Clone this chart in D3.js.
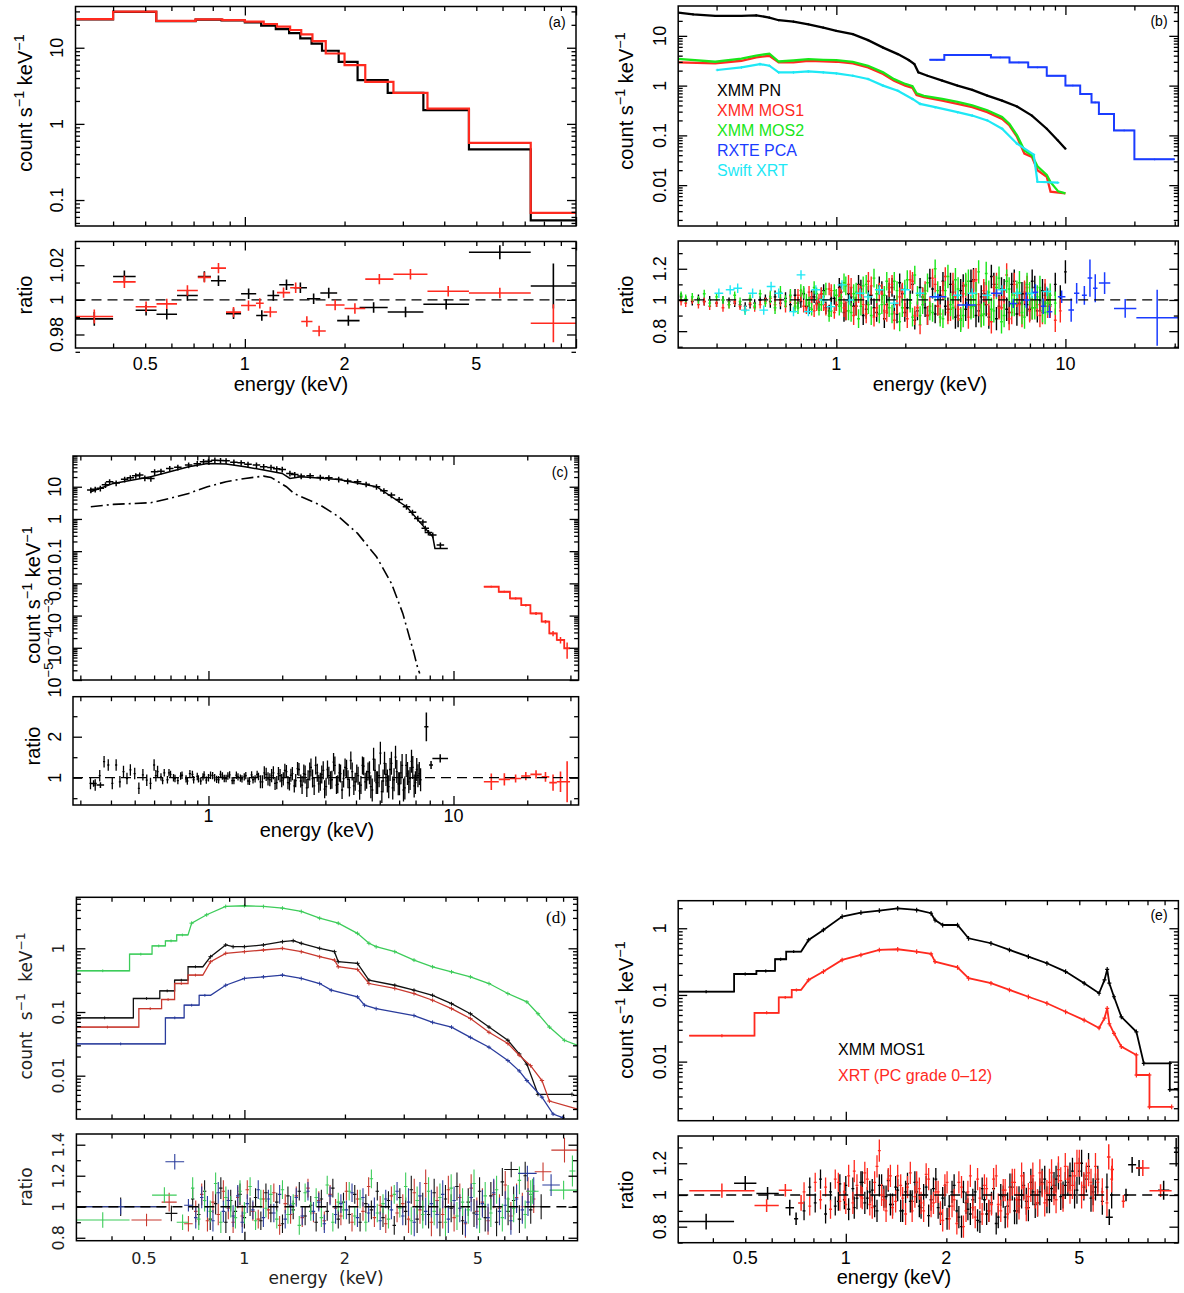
<!DOCTYPE html>
<html>
<head>
<meta charset="utf-8">
<script src="https://cdn.jsdelivr.net/npm/d3@7/dist/d3.min.js"></script>
<style>
  body { margin: 0; background: #fff; }
  svg { display: block; }
</style>
</head>
<body>
<svg id="fig" width="1184" height="1293"></svg>
<script>
// ---------------- data: panel (a) ----------------
var aEdgesBlack = [0.31,0.4,0.54,0.71,0.85,1.0,1.12,1.24,1.36,1.47,1.59,1.71,1.92,2.19,2.7,3.46,4.75,7.3,10];
var aBlack = [23.5,29.5,22.3,23.4,22.8,21.5,19.5,17.6,15.6,13.3,11.3,9.13,6.54,3.76,2.56,1.52,0.464,0.054];
var aEdgesRed = [0.31,0.4,0.54,0.71,0.855,1.0,1.14,1.25,1.37,1.48,1.6,1.755,2.0,2.31,2.81,3.56,4.75,7.3,10];
var aRed = [23.8,29.8,22.6,23.6,23.1,22.0,20.5,18.9,17.1,15.0,12.2,8.4,5.9,3.57,2.56,1.59,0.562,0.068];
// ratio rows: [E lo, E hi, ratio, error]
var aRatBlack = [[0.308,0.40,0.989,0.004],[0.40,0.468,1.0135,0.0035],[0.468,0.541,0.994,0.003],[0.541,0.624,0.9917,0.003],
  [0.624,0.721,1.0025,0.003],[0.721,0.79,1.0135,0.003],[0.79,0.877,1.011,0.003],[0.877,0.974,0.992,0.003],
  [0.974,1.082,1.0035,0.003],[1.082,1.17,0.991,0.003],[1.17,1.27,1.0025,0.003],[1.27,1.405,1.0087,0.003],
  [1.405,1.54,1.007,0.003],[1.54,1.69,1.0006,0.003],[1.69,1.90,1.004,0.003],[1.90,2.22,0.988,0.003],
  [2.22,2.70,0.9956,0.003],[2.70,3.46,0.993,0.003],[3.46,4.75,0.9975,0.003],[4.75,7.3,1.0275,0.004],[7.3,10,1.008,0.013]];
var aRatRed = [[0.308,0.40,0.9904,0.004],[0.40,0.468,1.0104,0.0035],[0.468,0.541,0.996,0.003],[0.541,0.624,0.9977,0.003],
  [0.624,0.721,1.0054,0.003],[0.721,0.79,1.013,0.003],[0.79,0.877,1.0183,0.003],[0.877,0.974,0.9929,0.003],
  [0.974,1.08,0.9967,0.003],[1.08,1.14,0.998,0.003],[1.14,1.25,0.993,0.003],[1.25,1.37,1.0042,0.003],
  [1.37,1.48,1.007,0.003],[1.48,1.60,0.9875,0.003],[1.60,1.755,0.982,0.003],[1.755,2.0,0.997,0.003],
  [2.0,2.31,0.995,0.003],[2.31,2.81,1.012,0.003],[2.81,3.56,1.0148,0.003],[3.56,4.75,1.005,0.003],[4.75,7.3,1.004,0.003],[7.3,10,0.9865,0.011]];

// ---------------- data: panel (b) ----------------
var bPN = [[0.204,29.3],[0.237,27.1],[0.296,25.1],[0.385,25.1],[0.447,25.9],[0.51,23.3],[0.56,20.6],[0.65,19.4],[0.755,17.1],
  [0.877,14.7],[1.0,12.6],[1.18,10.8],[1.375,8.2],[1.6,5.8],[1.855,4.3],[2.07,3.26],[2.19,2.71],[2.28,1.85],[2.5,1.58],
  [2.9,1.26],[3.38,1.0],[3.92,0.82],[4.56,0.63],[5.29,0.5],[6.15,0.38],[7.14,0.25],[8.29,0.136],[9.27,0.079],[10.0,0.054]];
var bMOS1 = [[0.204,2.93],[0.296,2.80],[0.385,3.16],[0.447,3.69],[0.51,3.98],[0.56,2.93],[0.65,2.93],[0.755,3.16],[0.877,3.08],
  [1.0,3.02],[1.18,2.80],[1.375,2.33],[1.6,1.71],[1.786,1.26],[2.0,1.0],[2.15,0.90],[2.24,0.65],[2.41,0.585],[2.9,0.50],
  [3.38,0.43],[3.92,0.369],[4.56,0.293],[5.29,0.215],[5.7,0.158],[6.15,0.093],[6.62,0.043],[7.14,0.037],[7.55,0.020],
  [8.29,0.0147],[8.61,0.0074],[10.0,0.0068]];
var bMOS2 = [[0.204,3.43],[0.296,3.02],[0.385,3.5],[0.447,4.0],[0.51,4.4],[0.56,3.05],[0.65,3.2],[0.755,3.4],[0.877,3.3],
  [1.0,3.25],[1.18,3.0],[1.375,2.5],[1.6,1.85],[1.786,1.35],[2.0,1.08],[2.15,0.97],[2.24,0.70],[2.41,0.62],[2.9,0.54],
  [3.38,0.47],[3.92,0.40],[4.56,0.32],[5.29,0.235],[5.7,0.17],[6.15,0.10],[6.62,0.05],[7.14,0.04],[7.55,0.024],
  [8.29,0.016],[8.61,0.0115],[9.3,0.0075],[10.0,0.0068]];
var bXRT = [[0.302,2.06],[0.385,2.33],[0.464,2.71],[0.51,2.51],[0.56,1.85],[0.65,1.85],[0.755,1.93],[0.877,1.85],[1.0,1.76],
  [1.18,1.58],[1.375,1.36],[1.6,1.0],[1.855,0.79],[2.15,0.54],[2.32,0.43],[2.7,0.369],[3.38,0.293],[3.92,0.25],[4.56,0.20],
  [5.29,0.136],[6.15,0.068],[7.27,0.041],[7.55,0.0117],[9.27,0.0112]];
var bPCAEdges = [2.55,2.96,4.73,5.70,6.88,8.29,10,11.6,13.0,14.0,16.3,20.0,30];
var bPCA = [3.31,4.1,3.69,2.93,2.33,1.58,1.0,0.68,0.46,0.27,0.126,0.033];
var gridB = [0.21,0.22,0.235,0.25,0.265,0.28,0.3,0.32,0.34,0.36,0.38,0.4,0.42,0.44,0.465,0.49,0.515,0.54,0.57,0.6,
  0.63,0.66,0.7,0.74,0.78,0.82,0.86,0.9,0.95,1.0,1.05,1.1,1.16,1.22,1.28,1.35,1.42,1.5,1.58,1.66,
  1.75,1.84,1.94,2.04,2.15,2.26,2.38,2.5,2.63,2.77,2.92,3.07,3.23,3.4,3.58,3.77,3.97,4.18,4.4,4.63,
  4.87,5.13,5.4,5.68,5.98,6.3,6.63,6.98,7.35,7.74,8.15,8.58,9.03,9.5,10.0];
var rPN = [1.02,1.0,0.99,1.01,0.99,1.0,0.98,1.0,0.99,0.98,0.97,0.96,0.97,0.98,1.0,1.01,0.99,1.02,0.98,1.01,
  0.97,1.03,0.99,0.96,1.02,0.98,1.04,0.95,1.01,0.97,1.05,0.93,1.02,0.96,1.07,0.94,1.03,0.92,1.06,0.97,
  1.08,0.91,1.04,0.95,1.1,0.93,1.02,0.9,1.07,0.96,1.12,0.94,1.05,0.9,1.09,0.97,1.13,0.93,1.04,0.89,
  1.1,0.96,1.06,0.92,1.12,0.98,1.04,0.94,1.08,1.0,1.03,0.97,1.1,1.02,1.18];
var rMOS1 = [0.99,0.98,1.0,0.97,0.99,0.96,0.98,0.95,0.97,0.99,0.96,0.94,0.98,0.95,0.97,0.99,1.01,0.97,1.0,0.96,
  1.02,0.98,1.03,0.95,1.01,0.97,1.04,0.94,1.06,0.97,1.02,0.93,1.08,0.96,1.03,0.91,1.09,0.95,1.04,0.92,
  1.1,0.97,1.05,0.88,1.12,0.95,1.02,0.9,1.14,0.96,1.06,0.92,1.1,0.94,1.04,0.89,1.12,0.97,1.06,0.91,
  1.08,0.95,1.02,0.88,1.1,0.97,1.05,0.93,1.0,0.9,1.06,0.96,0.87,0.93];
var rMOS2 = [1.03,1.01,1.02,1.0,1.04,0.98,1.02,1.0,0.97,1.03,0.99,0.93,1.01,0.96,1.04,0.98,1.02,0.95,1.05,0.99,
  1.03,0.96,1.06,1.0,0.94,1.04,0.97,1.07,0.93,1.03,0.98,1.09,0.92,1.05,0.96,1.1,0.9,1.04,0.97,1.12,
  0.91,1.06,0.95,1.13,0.89,1.03,0.97,1.11,0.92,1.06,0.88,1.15,0.95,1.07,0.9,1.12,0.96,1.18,0.91,1.05,
  0.93,1.14,0.9,1.07,0.97,1.11,0.89,1.04,0.95,1.08,0.92,1.03,0.98];
var gridB2 = [0.68,0.72,0.76,0.8,0.84,0.88,0.93,0.98,1.03,1.08,1.13,1.19,1.25,1.31,1.38,1.46,1.54,1.62,1.7,1.79,
  1.89,1.99,2.1,2.2,2.32,2.44,2.56,2.7,2.84,2.99,3.15,3.31,3.49,3.67,3.87,4.07,4.29,4.51,4.75,5.0,
  5.26,5.54,5.83,6.14,6.46,6.8,7.16,7.54,7.94,8.36];
var rPN2 = [0.98,1.04,0.95,1.02,0.97,1.06,0.93,1.01,1.08,0.92,1.04,0.96,1.1,0.9,1.03,0.95,1.09,0.88,1.05,0.97,
  1.11,0.92,1.0,0.87,1.08,0.95,1.14,0.91,1.03,0.96,1.1,0.89,1.06,0.94,1.12,0.9,1.02,0.97,1.15,0.88,
  1.07,0.94,1.1,0.91,1.04,0.97,1.12,0.93,1.06,1.0];
var rMOS1b = [1.03,0.96,1.05,0.93,1.0,0.97,1.07,0.92,1.02,0.95,1.1,0.9,1.04,0.97,1.12,0.89,1.05,0.93,1.08,0.87,
  1.02,0.95,1.13,0.9,0.84,1.06,0.96,1.1,0.91,1.15,0.94,1.02,0.88,1.09,0.96,1.13,0.9,1.04,0.86,1.1,
  0.95,1.16,0.92,1.03,0.9,1.08,0.95,0.97,0.92,0.96];
var rMOS2b = [0.95,1.05,0.98,1.08,0.94,1.02,0.9,1.06,0.96,1.11,0.93,1.04,0.88,1.09,0.97,1.14,0.91,1.03,0.95,1.12,
  0.86,1.07,0.98,1.16,0.9,1.04,0.93,1.2,0.89,1.06,0.97,1.13,0.87,1.1,0.95,1.04,0.9,1.17,0.94,1.08,
  0.86,1.12,0.97,1.05,0.92,1.1,0.95,1.02,0.93,0.98];
var errBandsB = [[0.5,0.025],[1.0,0.04],[3.0,0.06],[11,0.075]];
var rXRT = [[0.307,1.043],[0.344,1.065],[0.371,1.075],[0.40,0.935],[0.431,1.043],[0.482,0.935],[0.519,1.086],[0.56,1.043],
  [0.65,0.925],[0.701,1.161],[0.755,0.925],[0.814,1.065],[0.877,1.0],[0.946,0.957],[1.058,1.097],[1.14,1.0],[1.27,1.043],
  [1.375,1.02],[1.54,1.065],[1.79,0.98],[2.0,1.065],[2.32,1.043],[2.7,1.02],[3.38,1.03],[3.92,1.043],[4.56,1.03],
  [5.29,1.065],[6.15,1.043],[7.14,1.043],[8.29,1.054]];
var rPCA = [[2.55,3.02,1.02,0.02],[3.38,4.07,0.968,0.02],[4.73,5.29,1.043,0.025],[5.7,6.15,0.978,0.03],[6.5,7.0,1.0,0.05],
  [7.2,7.6,1.05,0.05],[7.8,8.2,0.96,0.05],[8.29,8.77,0.925,0.04],[9.27,10,1.02,0.04],[10.3,10.9,0.935,0.075],
  [10.9,11.5,1.043,0.065],[11.8,12.4,1.03,0.06],[12.5,13.1,1.14,0.12],[13.2,13.8,1.075,0.09],[14.0,15.7,1.108,0.07],
  [16.3,20.4,0.946,0.06],[20.4,31,0.886,0.18]];

// ---------------- data: panel (c) ----------------
var cData = [[0.331,7.9],[0.345,8.3],[0.362,8.9],[0.38,11.5],[0.395,14.3],[0.42,13],[0.455,17],[0.48,19],[0.505,22],
  [0.524,23],[0.55,18.5],[0.582,18],[0.603,29],[0.64,30],[0.695,37],[0.75,40],[0.83,47],[0.9,52],[0.955,60],[1.0,62],
  [1.062,67],[1.12,65],[1.18,64],[1.27,58],[1.36,55.6],[1.45,50],[1.57,47],[1.68,42],[1.8,39.8],[1.9,36],[2.0,34.5],
  [2.15,25.9],[2.25,24],[2.39,21.4],[2.6,22],[2.86,19.5],[3.1,19],[3.4,17],[3.7,15],[4.06,14.3],[4.4,12],[4.85,10],
  [5.2,7.5],[5.58,5.5],[6.0,4.0],[6.43,2.4],[6.8,1.6],[7.15,1.04],[7.5,0.8],[7.67,0.51],[7.9,0.38],[8.23,0.316],[8.84,0.155]];
var cModel = [[0.331,7.0],[0.409,12.7],[0.582,20.4],[0.83,41.7],[0.99,53],[1.18,50.5],[1.41,41.7],[1.68,32.9],[2.0,25.9],
  [2.15,18.1],[2.39,20.4],[3.4,16.9],[4.85,10],[6.43,2.4],[7.67,0.51],[8.23,0.281],[8.4,0.122],[9.48,0.122]];
var cComp = [[0.331,2.4],[0.409,2.83],[0.582,3.19],[0.695,4.34],[0.83,6.2],[0.99,10],[1.18,14.3],[1.41,18.1],[1.68,21.4],
  [1.80,19.5],[2.08,10],[2.23,6.2],[2.39,4.9],[2.86,2.7],[3.40,1.17],[4.06,0.356],[4.85,0.067],[5.58,0.010],[6.21,1.17e-3],
  [6.66,1.75e-4],[6.90,6.7e-5],[7.15,2.3e-5],[7.28,1.6e-5]];
var cRedEdges = [13.3,15.3,17.0,18.9,20.6,22.9,24.6,26.4,28.3,29.9];
var cRed = [7.9e-3,5.5e-3,3.4e-3,2.1e-3,1.17e-3,6.5e-4,2.8e-4,1.75e-4,9.6e-5];
var cRedErr = [6e-4,4e-4,3e-4,2e-4,1.2e-4,8e-5,5e-5,4e-5,5e-5];
var gridC = [0.33,0.345,0.36,0.375,0.39,0.405,0.42,0.435,0.45,0.465,0.48,0.5,0.52,0.54,0.56,0.58,0.6,0.62,0.64,0.66,
  0.68,0.7,0.72,0.75,0.78,0.81,0.84,0.87,0.9,0.93,0.96,1.0,1.04,1.08,1.12,1.16,1.2,1.25,1.3,1.35,
  1.4,1.45,1.5,1.55,1.6,1.66,1.72,1.78,1.84,1.9,1.96,2.02,2.08,2.14,2.2,2.27,2.34,2.41,2.48,2.55,
  2.62,2.7,2.78,2.86,2.94,3.02,3.1,3.19,3.28,3.37,3.46,3.56,3.66,3.76,3.86,3.97,4.08,4.19,4.3,4.42,
  4.54,4.66,4.78,4.9,5.03,5.16,5.3,5.44,5.58,5.72,5.87,6.02,6.17,6.33,6.49,6.65,6.82,6.99,7.16,7.34];
var rC = [0.86,0.82,1.05,1.39,1.31,0.86,1.31,0.9,1.15,0.98,1.19,1.1,0.74,1.07,0.94,0.86,1.31,1.15,1.02,1.12,
  0.95,1.08,1.0,0.93,1.06,0.97,1.1,0.95,1.03,0.92,1.07,1.0,1.05,0.96,1.08,0.98,1.04,0.93,1.06,0.99,
  1.02,0.92,1.07,0.97,1.03,0.9,1.08,0.95,1.12,0.88,1.05,0.97,1.15,0.85,1.1,0.93,1.2,0.82,1.08,0.96,
  1.25,0.8,1.12,0.9,1.18,0.78,1.05,0.95,1.3,0.84,1.1,0.98,1.22,0.76,1.15,0.9,1.05,0.82,1.28,0.95,
  1.12,0.7,1.18,0.88,1.6,0.92,1.08,0.78,1.35,0.95,1.15,0.85,1.3,0.75,1.1,0.98,1.25,0.88,1.05,0.95];
var gridC2 = [0.61,0.65,0.69,0.73,0.77,0.82,0.86,0.91,0.95,0.98,1.02,1.06,1.1,1.14,1.18,1.22,1.27,1.32,1.37,1.42,1.47,
  1.52,1.58,1.63,1.69,1.75,1.81,1.87,1.93,1.99,2.05,2.11,2.17,2.24,2.31,2.38,2.45,2.52,2.59,2.66,2.74,2.82,2.9,2.98,3.06,
  3.15,3.24,3.33,3.42,3.51,3.61,3.71,3.81,3.92,4.03,4.14,4.25,4.36,4.48,4.6,4.72,4.84,4.97,5.1,5.23,5.37,5.51,5.65,
  5.8,5.95,6.1,6.25,6.41,6.57,6.74,6.91,7.08,7.25];
var rC2 = [1.05,0.93,1.12,0.98,1.04,0.92,1.08,0.97,1.02,0.94,1.06,1.0,0.95,1.04,0.98,1.07,0.93,1.02,0.97,1.05,0.91,
  0.95,1.08,0.9,1.12,0.97,1.05,0.86,1.1,0.93,1.18,0.88,1.06,0.8,1.22,0.92,1.1,0.75,1.15,0.98,1.3,0.85,1.08,0.72,1.2,
  0.94,1.38,0.82,1.12,0.7,1.25,0.96,1.42,0.8,1.1,0.68,1.3,0.9,1.15,0.78,1.45,0.88,1.05,0.66,1.35,0.92,1.2,0.75,
  1.5,0.85,1.12,0.7,1.3,0.9,1.4,0.8,1.2,1.1];
var errBandsC = [[0.62,0.14],[1.6,0.09],[2.4,0.16],[4.5,0.22],[10,0.28]];
var cRatBlack = [[0.33,0.35,0.86,0.08],[0.35,0.375,0.82,0.07],[7.6,7.9,2.24,0.35],[7.95,8.25,1.31,0.1],[8.2,9.5,1.47,0.1]];
var cRatRed = [[13.3,15.3,0.90,0.2],[15.3,17.0,0.96,0.15],[17.0,18.9,0.98,0.1],[18.9,20.6,1.04,0.1],[20.6,22.9,1.08,0.1],
  [22.9,24.6,1.02,0.12],[24.6,26.4,0.88,0.2],[26.4,28.3,0.9,0.25],[28.3,29.9,0.9,0.5]];

// ---------------- data: panel (d) ----------------
var dGreenEdges = [0.313,0.453,0.529,0.58,0.627,0.678];
var dGreenSteps = [0.444,0.81,1.09,1.31,1.62];
var dGreen = [[0.695,2.48],[0.771,3.36],[0.879,4.54],[1.0,4.66],[1.14,4.54],[1.3,4.28],[1.48,3.79],[1.68,2.97],[1.91,2.48],
  [2.18,1.72],[2.36,1.2],[2.48,1.06],[2.82,0.886],[3.22,0.654],[3.66,0.513],[4.17,0.428],[4.75,0.357],[5.4,0.28],
  [6.15,0.195],[7.01,0.144],[7.57,0.094],[8.19,0.058],[9.08,0.036],[9.95,0.030]];
var dBlackEdges = [0.313,0.465,0.558,0.618,0.678,0.751];
var dBlackSteps = [0.081,0.163,0.215,0.316,0.513];
var dBlack = [[0.792,0.739],[0.879,1.13],[0.925,1.06],[1.0,1.06],[1.14,1.13],[1.3,1.27],[1.4,1.32],[1.48,1.2],[1.68,1.0],
  [1.86,0.886],[1.91,0.616],[2.18,0.58],[2.36,0.316],[2.82,0.263],[3.22,0.22],[3.66,0.183],[4.17,0.135],[4.75,0.094],
  [5.4,0.058],[6.15,0.036],[6.65,0.022],[7.01,0.0152],[7.57,0.0051],[9.57,0.0051]];
var dRedEdges = [0.313,0.483,0.565,0.618,0.678,0.751];
var dRedSteps = [0.058,0.113,0.157,0.28,0.38];
var dRed = [[0.792,0.616],[0.879,0.834],[1.0,0.886],[1.14,0.94],[1.3,1.0],[1.48,0.886],[1.68,0.739],[1.86,0.654],[1.91,0.513],
  [2.18,0.466],[2.36,0.28],[2.82,0.234],[3.22,0.195],[3.66,0.153],[4.17,0.113],[4.75,0.079],[5.4,0.048],[6.15,0.032],
  [6.65,0.021],[7.19,0.0144],[7.78,0.0084],[8.19,0.004],[9.95,0.003]];
var dBlueEdges = [0.313,0.58,0.66,0.732,0.792];
var dBlueSteps = [0.0316,0.081,0.128,0.183];
var dBlue = [[0.879,0.263],[1.0,0.336],[1.14,0.357],[1.3,0.38],[1.48,0.336],[1.68,0.28],[1.82,0.22],[2.18,0.173],[2.29,0.128],
  [2.48,0.113],[3.22,0.088],[3.66,0.069],[4.17,0.058],[4.75,0.040],[5.4,0.028],[6.15,0.0173],[6.65,0.0119],[7.01,0.0084],
  [7.78,0.0046],[8.4,0.0025],[8.97,0.0022]];
var gridD = [0.7,0.73,0.76,0.79,0.82,0.85,0.88,0.91,0.94,0.97,1.0,1.04,1.08,1.12,1.16,1.2,1.25,1.3,1.35,1.4,
  1.46,1.52,1.58,1.64,1.7,1.77,1.84,1.91,1.98,2.06,2.14,2.22,2.31,2.4,2.5,2.6,2.7,2.81,2.92,3.04,
  3.16,3.29,3.42,3.56,3.7,3.85,4.0,4.16,4.33,4.5,4.68,4.87,5.06,5.26,5.47,5.69,5.92,6.16,6.4,6.66,6.93,7.2];
var gridD2 = [0.715,0.745,0.775,0.805,0.835,0.865,0.895,0.925,0.955,0.985,1.02,1.06,1.1,1.14,1.18,1.225,1.275,1.325,1.375,1.43,
  1.49,1.55,1.61,1.67,1.735,1.805,1.875,1.945,2.02,2.1,2.18,2.265,2.355,2.45,2.55,2.65,2.755,2.865,2.98,3.1,
  3.225,3.355,3.49,3.63,3.775,3.925,4.08,4.245,4.415,4.59,4.775,4.965,5.16,5.365,5.58,5.805,6.04,6.28,6.53,6.795,7.065,7.35];
var rDk = [1.05,0.95,1.1,0.92,1.02,1.12,0.9,1.04,0.97,1.08,0.93,1.0,1.06,0.91,1.09,0.96,1.03,0.89,1.07,0.98,
  1.1,0.94,1.01,0.9,1.05,0.97,1.12,0.92,1.03,0.95,1.08,0.9,1.02,0.98,1.1,0.93,1.04,0.88,1.06,0.97,
  1.11,0.92,1.0,0.95,1.09,0.9,1.05,0.99,1.13,0.91,1.03,0.96,1.1,0.93,1.07,0.9,1.16,0.97,1.04,0.92,1.2,0.98];
var rDr = [0.97,1.08,0.91,1.03,0.95,1.1,0.99,0.9,1.06,0.94,1.11,0.97,0.92,1.05,0.98,1.09,0.88,1.02,0.95,1.07,
  0.93,1.12,0.96,1.04,0.91,1.08,0.99,0.94,1.1,0.9,1.05,0.97,1.13,0.93,1.01,0.89,1.07,0.96,1.02,0.92,
  1.09,0.98,1.15,0.9,1.04,0.95,1.11,0.93,1.06,0.89,1.12,0.97,1.03,0.91,1.08,0.99,1.14,0.94,1.06,1.0,1.1,1.05];
var rDg = [1.12,0.92,1.04,0.97,1.15,0.9,1.06,1.0,0.93,1.1,0.96,1.13,0.91,1.05,0.99,1.08,0.92,1.11,0.95,1.02,
  0.88,1.09,0.97,1.06,0.93,1.14,0.9,1.03,0.98,1.1,0.94,1.05,0.9,1.18,0.96,1.02,0.92,1.08,0.99,1.13,
  0.91,1.04,0.95,1.1,0.97,1.06,0.9,1.12,0.94,1.03,0.98,1.15,0.92,1.07,0.96,1.11,0.93,1.05,0.99,1.17,0.95,1.08];
var rDb = [0.93,1.06,1.0,0.91,1.09,0.97,1.04,0.94,1.07,0.9,1.02,0.98,1.11,0.93,1.05,0.96,1.08,0.92,1.01,1.06,
  0.94,1.1,0.97,1.03,0.89,1.07,0.95,1.02,0.98,1.09,0.93,1.06,0.96,1.0,0.91,1.05,0.98,1.1,0.94,1.03,
  0.9,1.07,0.97,1.02,0.95,1.08,0.92,1.04,0.99,0.9,1.06,0.95,1.02,0.93,1.09,0.97,1.01,0.91,1.05,0.98,1.03,1.1];
var errBandsD = [[1.0,0.07],[3.0,0.06],[10,0.09]];
var dRatBlack = [[0.313,0.58,1.0,0.06],[0.58,0.63,0.957,0.05],[6.0,6.6,1.24,0.05],[7.3,8.2,1.0,0.08]];
var dRatRed = [[0.459,0.565,0.914,0.04],[0.565,0.627,1.03,0.06],[0.66,0.7,0.89,0.05],[7.4,8.3,1.226,0.06],[8.3,9.95,1.365,0.08]];
var dRatGreen = [[0.313,0.453,0.914,0.05],[0.529,0.627,1.075,0.05],[0.627,0.68,0.90,0.05],[7.0,7.6,1.1,0.08],[8.2,9.95,1.107,0.06],[9.4,9.8,1.23,0.1]];
var dRatBlue = [[0.313,0.58,1.0,0.05],[0.58,0.66,1.29,0.05],[0.66,0.7,1.01,0.04],[6.6,7.5,1.215,0.05],[7.8,8.8,1.14,0.07]];

// ---------------- data: panel (e) ----------------
var eBlackEdges = [0.315,0.463,0.54,0.614,0.663,0.735];
var eBlackSteps = [0.112,0.206,0.229,0.343,0.447];
var eBlack = [[0.774,0.668],[0.857,0.944],[0.975,1.5],[1.11,1.72],[1.26,1.84],[1.43,1.99],[1.63,1.88],[1.8,1.68],[1.85,1.33],
  [1.95,1.12],[2.16,1.12],[2.33,0.708],[2.72,0.596],[3.09,0.473],[3.52,0.376],[4.0,0.299],[4.55,0.224],[5.17,0.15],
  [5.73,0.106],[5.95,0.168],[6.06,0.242],[6.15,0.15],[6.35,0.094],[6.68,0.047],[7.41,0.028],[7.8,0.0094],[9.33,0.0094],
  [9.33,0.0038],[9.9,0.0038]];
var eRedEdges = [0.34,0.533,0.63,0.689,0.735];
var eRedSteps = [0.0245,0.054,0.092,0.119];
var eRed = [[0.774,0.168],[0.857,0.224],[0.975,0.335],[1.11,0.398],[1.26,0.473],[1.43,0.484],[1.63,0.447],[1.8,0.412],
  [1.85,0.316],[2.16,0.26],[2.33,0.178],[2.72,0.15],[3.09,0.119],[3.52,0.094],[4.0,0.075],[4.55,0.056],[5.17,0.042],
  [5.73,0.032],[5.95,0.045],[6.06,0.063],[6.15,0.037],[6.35,0.0266],[6.68,0.0168],[7.41,0.0126],[7.41,0.0063],
  [8.11,0.0063],[8.11,0.0021],[9.45,0.0021]];
var gridE = [0.75,0.78,0.81,0.84,0.87,0.9,0.93,0.96,0.99,1.02,1.05,1.08,1.11,1.14,1.18,1.22,1.26,1.3,1.34,1.38,
  1.43,1.48,1.53,1.58,1.63,1.68,1.74,1.8,1.86,1.92,1.98,2.04,2.11,2.18,2.25,2.32,2.4,2.48,2.56,2.64,
  2.73,2.82,2.91,3.0,3.1,3.2,3.3,3.41,3.52,3.63,3.75,3.87,4.0,4.13,4.26,4.4,4.54,4.69,4.84,5.0,
  5.16,5.33,5.5,5.68,5.86,6.05,6.25];
var rEk = [0.9,1.05,0.95,1.1,0.88,1.02,0.93,1.07,0.97,0.91,1.04,0.98,1.08,0.95,1.02,0.93,1.06,0.99,1.09,0.94,
  1.03,0.9,1.07,0.96,1.02,0.92,1.05,0.97,1.1,0.88,1.0,0.93,1.06,0.86,1.02,0.91,0.97,0.84,1.04,0.88,
  0.95,0.82,1.0,0.86,1.05,0.9,0.97,1.06,0.92,1.02,0.95,1.08,0.97,1.04,1.1,0.99,1.06,1.12,1.0,1.15,
  1.05,1.18,1.02,1.1,0.96,1.05,1.0];
var rEr = [1.02,0.93,1.08,0.97,1.05,0.91,1.1,0.96,1.02,1.12,0.95,1.06,0.99,1.14,0.94,1.08,1.28,0.97,1.1,0.92,
  1.12,0.98,1.05,0.9,1.08,0.95,1.13,0.93,1.02,0.89,1.06,0.85,0.97,1.08,0.8,1.02,0.92,1.1,0.88,1.04,
  0.94,1.12,0.9,1.03,0.97,1.08,0.93,1.05,0.99,1.12,0.95,1.07,1.01,1.14,0.97,1.09,1.18,1.03,1.12,1.2,
  1.06,1.14,0.98,1.08,1.02,0.95,1.1];
var gridE2 = [0.95,1.0,1.06,1.12,1.16,1.2,1.24,1.28,1.32,1.36,1.41,1.46,1.51,1.56,1.61,1.66,1.71,1.77,1.83,1.89,
  1.95,2.01,2.08,2.15,2.22,2.29,2.36,2.44,2.52,2.6,2.68,2.77,2.86,2.96,3.05,3.15,3.25,3.36,3.47,3.58,
  3.69,3.81,3.94,4.07,4.2,4.33,4.47,4.62,4.77,4.92,5.08,5.25,5.42,5.59];
var rEk2 = [0.96,1.06,0.92,1.08,0.98,1.03,0.9,1.06,0.99,0.94,1.05,0.9,1.02,0.96,1.08,0.93,1.0,0.87,1.04,0.92,
  0.98,0.85,1.02,0.9,0.8,0.95,0.88,1.02,0.83,0.97,0.9,1.04,0.86,0.99,0.93,1.05,0.9,1.0,0.96,1.08,
  0.94,1.02,1.1,0.97,1.06,1.12,1.0,1.08,1.15,1.03,1.2,1.1,0.98,1.05];
var rEr2 = [1.08,0.94,1.15,0.98,1.1,0.92,1.18,1.0,0.9,1.12,0.96,1.06,0.88,1.14,0.99,1.04,0.9,1.1,0.95,1.02,
  0.84,1.08,0.93,0.82,1.05,0.9,1.12,0.86,0.98,1.06,0.9,1.1,0.94,1.03,0.88,1.08,0.97,1.12,0.92,1.04,
  1.0,1.14,0.95,1.08,1.02,1.16,0.98,1.1,1.06,1.2,1.0,1.12,1.08,1.18];
var errBandsE = [[1.0,0.06],[3.0,0.07],[10,0.085]];
var eRatBlack = [[0.315,0.463,0.832,0.05],[0.463,0.54,1.074,0.045],[0.54,0.63,1.01,0.04],[0.66,0.7,0.92,0.05],
  [0.7,0.72,0.85,0.04],[6.0,6.3,0.86,0.05],[6.8,7.0,1.0,0.04],[7.0,7.4,1.19,0.05],[7.4,7.7,1.17,0.05],[8.6,9.3,1.03,0.06],[9.6,9.9,1.27,0.09]];
var eRatRed = [[0.34,0.533,1.027,0.045],[0.533,0.63,0.933,0.04],[0.63,0.69,1.03,0.04],[0.72,0.75,0.95,0.05],
  [6.05,6.2,1.24,0.08],[6.2,6.35,1.16,0.07],[6.7,6.85,0.96,0.04],[7.4,8.11,1.17,0.05],[8.11,9.45,1.027,0.04]];

// ---------------- drawing ----------------
var FONT = "'Liberation Sans', Arial, Helvetica, sans-serif";
var RED = "#ff2a1f", GREEN = "#19e619", BLUE = "#1a3cff", CYAN = "#1ee8f5";
var svg = d3.select("#fig");
var defs = svg.append("defs");

function panel(p) {
  var P = {p: p};
  P.x = d3.scaleLog().domain(p.xdom).range([p.x0, p.x1]);
  P.y = d3.scaleLog().domain(p.ydom).range([p.t1, p.t0]);
  P.r = d3.scaleLinear().domain(p.rdom).range([p.r1, p.r0]);
  defs.append("clipPath").attr("id", "ct" + p.id).append("rect")
    .attr("x", p.x0).attr("y", p.t0).attr("width", p.x1 - p.x0).attr("height", p.t1 - p.t0);
  defs.append("clipPath").attr("id", "cr" + p.id).append("rect")
    .attr("x", p.x0).attr("y", p.r0).attr("width", p.x1 - p.x0).attr("height", p.r1 - p.r0);
  P.top = svg.append("g").attr("clip-path", "url(#ct" + p.id + ")");
  P.rat = svg.append("g").attr("clip-path", "url(#cr" + p.id + ")");
  return P;
}

function stepPts(edges, vals) {
  var pts = [];
  vals.forEach(function (v, i) { pts.push([edges[i], v], [edges[i + 1], v]); });
  return pts;
}

function curve(P, pts, color, w, dash) {
  var ln = d3.line().x(function (d) { return P.x(d[0]); }).y(function (d) { return P.y(d[1]); });
  var path = P.top.append("path").attr("d", ln(pts)).attr("fill", "none")
    .attr("stroke", color).attr("stroke-width", w);
  if (dash) path.attr("stroke-dasharray", dash);
}

// rows: [E lo, E hi, value, value lo, value hi]
function countCrosses(P, rows, color, w) {
  var d = rows.map(function (q) {
    var xc = P.x(Math.sqrt(q[0] * q[1]));
    return "M" + P.x(q[0]) + "," + P.y(q[2]) + "H" + P.x(q[1]) + "M" + xc + "," + P.y(q[3]) + "V" + P.y(q[4]);
  }).join("");
  P.top.append("path").attr("d", d).attr("fill", "none").attr("stroke", color).attr("stroke-width", w);
}
function binCrosses(P, edges, vals, color, w, f) {
  countCrosses(P, vals.map(function (v, i) { return [edges[i], edges[i + 1], v, v * (1 - f), v * (1 + f)]; }), color, w);
}
function pointCrosses(P, pts, color, w, hw, f) {
  countCrosses(P, pts.map(function (q) { return [q[0] / (1 + hw), q[0] * (1 + hw), q[1], q[1] * (1 - f), q[1] * (1 + f)]; }), color, w);
}

// rows: [E lo, E hi, ratio, err]
function ratioCrosses(P, rows, color, w) {
  var d = rows.map(function (q) {
    var xc = P.x(Math.sqrt(q[0] * q[1]));
    return "M" + P.x(q[0]) + "," + P.r(q[2]) + "H" + P.x(q[1]) + "M" + xc + "," + P.r(q[2] - q[3]) + "V" + P.r(q[2] + q[3]);
  }).join("");
  P.rat.append("path").attr("d", d).attr("fill", "none").attr("stroke", color).attr("stroke-width", w);
}
function errAt(bands, e) {
  var b = bands.find(function (q) { return e <= q[0]; });
  return b ? b[1] : bands[bands.length - 1][1];
}
function denseRatio(P, grid, vals, bands, color, w, hw) {
  ratioCrosses(P, d3.zip(grid, vals).map(function (q) {
    return [q[0] / (1 + hw), q[0] * (1 + hw), q[1], errAt(bands, q[0])];
  }), color, w);
}
function unityLine(P) {
  P.rat.append("line").attr("x1", P.p.x0).attr("x2", P.p.x1).attr("y1", P.r(1)).attr("y2", P.r(1))
    .attr("stroke", "#000").attr("stroke-width", 1.3).attr("stroke-dasharray", "10,6");
}

function isDecade(v) { var l = Math.log10(v); return Math.abs(l - Math.round(l)) < 1e-6; }

function tickAxis(g, side, sc, pos, vals, len) {
  var mk = {top: d3.axisTop, bottom: d3.axisBottom, left: d3.axisLeft, right: d3.axisRight}[side];
  var tr = (side === "top" || side === "bottom") ? "translate(0," + pos + ")" : "translate(" + pos + ",0)";
  g.append("g").attr("transform", tr)
    .call(mk(sc).tickValues(vals).tickSize(-len).tickFormat(""))
    .call(function (s) {
      s.select(".domain").remove();
      s.selectAll("line").attr("stroke", "#000").attr("stroke-width", 1.3);
    });
}

function label(x, y, parts, o) {
  o = o || {};
  var size = o.size || 18;
  var t = svg.append("text").attr("x", x).attr("y", y)
    .attr("font-family", o.font || FONT).attr("font-size", size)
    .attr("fill", o.fill || "#000").attr("text-anchor", o.anchor || "middle");
  if (o.rot) t.attr("transform", "rotate(-90," + x + "," + y + ")");
  if (o.ws) t.attr("word-spacing", o.ws);
  var up = false;
  [].concat(parts).forEach(function (s) {
    var sup = s.charAt(0) === "^";
    var ts = t.append("tspan").text(sup ? s.slice(1) : s);
    if (sup) {
      ts.attr("font-size", size * 0.72);
      if (!up) { ts.attr("dy", -0.42 * size); up = true; }
    } else if (up) { ts.attr("dy", 0.42 * size); up = false; }
  });
  return t;
}

function axes(P, o) {
  var p = P.p, g = svg.append("g");
  var xt = P.x.ticks(), xMaj = xt.filter(isDecade), xMin = xt.filter(function (v) { return !isDecade(v); });
  [[p.t0, "top"], [p.t1, "bottom"], [p.r0, "top"], [p.r1, "bottom"]].forEach(function (s) {
    tickAxis(g, s[1], P.x, s[0], xMin, 4.5);
    tickAxis(g, s[1], P.x, s[0], xMaj, 9);
  });
  var yt = P.y.ticks(), yMaj = yt.filter(isDecade), yMin = yt.filter(function (v) { return !isDecade(v); });
  [[p.x0, "left"], [p.x1, "right"]].forEach(function (s) {
    tickAxis(g, s[1], P.y, s[0], yMin, 4.5);
    tickAxis(g, s[1], P.y, s[0], yMaj, 9);
    tickAxis(g, s[1], P.r, s[0], o.rMin, 4.5);
    tickAxis(g, s[1], P.r, s[0], o.rMaj, 9);
  });
  g.append("rect").attr("x", p.x0).attr("y", p.t0).attr("width", p.x1 - p.x0).attr("height", p.t1 - p.t0)
    .attr("fill", "none").attr("stroke", "#000").attr("stroke-width", 1.5);
  g.append("rect").attr("x", p.x0).attr("y", p.r0).attr("width", p.x1 - p.x0).attr("height", p.r1 - p.r0)
    .attr("fill", "none").attr("stroke", "#000").attr("stroke-width", 1.5);

  var tk = {font: o.font, size: o.size || 18, fill: o.fill};
  var ti = {font: o.font, size: o.tsize || 20, fill: o.fill};
  o.xLab.forEach(function (s) { label(P.x(s[0]), o.xLabY, s[1], tk); });
  o.yLab.forEach(function (s) { label(p.x0 - 12, P.y(s[0]), s[1], Object.assign({rot: true}, tk)); });
  o.rLab.forEach(function (s) { label(p.x0 - 12, P.r(s[0]), s[1], Object.assign({rot: true}, tk)); });
  label(o.eX, o.eY, "energy (keV)", Object.assign({ws: o.ws}, ti));
  label(o.tX, o.cY, ["count s", "^\u22121", " keV", "^\u22121"], Object.assign({rot: true, ws: o.ws}, ti));
  label(o.tX, o.rY, "ratio", Object.assign({rot: true}, ti));
  label(o.tag[0], o.tag[1], o.tag[2], {size: o.tagSize || 14, font: o.tagFont || FONT});
}

var xLabs5 = [[0.5, "0.5"], [1, "1"], [2, "2"], [5, "5"]];

// ---------- (a) ----------
var A = panel({id: "a", x0: 75.5, x1: 576, t0: 6.5, t1: 226, r0: 241.5, r1: 348,
  xdom: [0.308, 10], ydom: [0.0456, 34.8], rdom: [0.9722, 1.0337]});
curve(A, stepPts(aEdgesBlack, aBlack), "#000", 2.2);
curve(A, stepPts(aEdgesRed, aRed), RED, 2.2);
unityLine(A);
ratioCrosses(A, aRatBlack, "#000", 1.6);
ratioCrosses(A, aRatRed, RED, 1.6);
axes(A, {rMaj: [0.98, 1, 1.02], rMin: [0.97, 0.99, 1.01, 1.03], xLab: xLabs5, xLabY: 369.5,
  yLab: [[0.1, "0.1"], [1, "1"], [10, "10"]], rLab: [[0.98, "0.98"], [1, "1"], [1.02, "1.02"]],
  eX: 291, eY: 391, tX: 32, cY: 103, rY: 295, tag: [557, 27, "(a)"]});

// ---------- (b) ----------
var B = panel({id: "b", x0: 678.2, x1: 1178.3, t0: 6, t1: 226, r0: 241, r1: 348,
  xdom: [0.204, 31.1], ydom: [0.00151, 39.8], rdom: [0.692, 1.378]});
curve(B, bPN, "#000", 2.3);
pointCrosses(B, bPN, "#000", 1.2, 0.012, 0.05);
curve(B, bMOS1, RED, 2.3);
curve(B, bMOS2, GREEN, 2.3);
curve(B, bXRT, CYAN, 2.2);
pointCrosses(B, bXRT, CYAN, 1.2, 0.015, 0.06);
curve(B, stepPts(bPCAEdges, bPCA), BLUE, 2);
binCrosses(B, bPCAEdges, bPCA, BLUE, 1.3, 0.04);
denseRatio(B, gridB, rPN, errBandsB, "#000", 1.4, 0.014);
denseRatio(B, gridB2, rPN2, errBandsB, "#000", 1.4, 0.014);
denseRatio(B, gridB, rMOS1, errBandsB, RED, 1.4, 0.014);
denseRatio(B, gridB2, rMOS1b, errBandsB, RED, 1.4, 0.014);
denseRatio(B, gridB, rMOS2, errBandsB, GREEN, 1.4, 0.014);
denseRatio(B, gridB2, rMOS2b, errBandsB, GREEN, 1.4, 0.014);
ratioCrosses(B, rXRT.map(function (q) { return [q[0] / 1.045, q[0] * 1.045, q[1], 0.03]; }), CYAN, 1.4);
ratioCrosses(B, rPCA, BLUE, 1.5);
unityLine(B);
axes(B, {rMaj: [0.8, 1, 1.2], rMin: [0.7, 0.9, 1.1, 1.3], xLab: [[1, "1"], [10, "10"]], xLabY: 370,
  yLab: [[0.01, "0.01"], [0.1, "0.1"], [1, "1"], [10, "10"]], rLab: [[0.8, "0.8"], [1, "1"], [1.2, "1.2"]],
  eX: 930, eY: 391, tX: 633, cY: 101, rY: 295, tag: [1159, 26, "(b)"]});
[["XMM PN", "#000"], ["XMM MOS1", RED], ["XMM MOS2", GREEN], ["RXTE PCA", BLUE], ["Swift XRT", CYAN]].forEach(function (s, i) {
  label(717, 96 + 20 * i, s[0], {size: 16, fill: s[1], anchor: "start"});
});

// ---------- (c) ----------
var C = panel({id: "c", x0: 73, x1: 578.6, t0: 456, t1: 680, r0: 696.7, r1: 805,
  xdom: [0.28, 32.4], ydom: [1e-5, 90], rdom: [0.334, 2.976]});
curve(C, cComp, "#000", 1.6, "12,4,2,4");
curve(C, cModel, "#000", 1.5);
pointCrosses(C, cData, "#000", 1.5, 0.036, 0.2);
curve(C, stepPts(cRedEdges, cRed), RED, 1.8);
countCrosses(C, cRed.map(function (v, i) { return [cRedEdges[i], cRedEdges[i + 1], v, v - cRedErr[i], v + cRedErr[i]]; }), RED, 1.5);
denseRatio(C, gridC, rC, errBandsC, "#000", 1.3, 0.01);
denseRatio(C, gridC2, rC2, errBandsC, "#000", 1.3, 0.01);
ratioCrosses(C, cRatBlack, "#000", 1.5);
ratioCrosses(C, cRatRed, RED, 1.6);
unityLine(C);
axes(C, {rMaj: [1, 2], rMin: [0.5, 1.5, 2.5], xLab: [[1, "1"], [10, "10"]], xLabY: 822,
  yLab: [[1e-5, ["10", "^\u22125"]], [1e-4, ["10", "^\u22124"]], [1e-3, ["10", "^\u22123"]], [0.01, "0.01"], [0.1, "0.1"], [1, "1"], [10, "10"]],
  rLab: [[1, "1"], [2, "2"]], eX: 317, eY: 837, tX: 40, cY: 595, rY: 746, tag: [560, 477, "(c)"]});

// ---------- (d) ----------
var DG = "#3dcc5a", DR = "#c8392f", DB = "#2a3c9c";
var D = panel({id: "d", x0: 76.4, x1: 577.5, t0: 897.3, t1: 1119, r0: 1134, r1: 1240.7,
  xdom: [0.314, 9.94], ydom: [0.00209, 6.32], rdom: [0.781, 1.469]});
[[dGreenEdges, dGreenSteps, dGreen, DG], [dBlackEdges, dBlackSteps, dBlack, "#111"],
 [dRedEdges, dRedSteps, dRed, DR], [dBlueEdges, dBlueSteps, dBlue, DB]].forEach(function (s) {
  curve(D, stepPts(s[0], s[1]).concat(s[2]), s[3], 1.3);
  binCrosses(D, s[0], s[1], s[3], 1.0, 0.05);
  pointCrosses(D, s[2], s[3], 1.0, 0.015, 0.07);
});
denseRatio(D, gridD, rDk, errBandsD, "#111", 1.1, 0.012);
denseRatio(D, gridD2, rDr, errBandsD, DR, 1.1, 0.012);
denseRatio(D, gridD, rDg, errBandsD, DG, 1.1, 0.012);
denseRatio(D, gridD2, rDb, errBandsD, DB, 1.1, 0.012);
ratioCrosses(D, dRatBlack, "#111", 1.1);
ratioCrosses(D, dRatRed, DR, 1.1);
ratioCrosses(D, dRatGreen, DG, 1.1);
ratioCrosses(D, dRatBlue, DB, 1.1);
unityLine(D);
axes(D, {rMaj: [0.8, 1, 1.2, 1.4], rMin: [0.9, 1.1, 1.3], xLab: xLabs5, xLabY: 1264,
  yLab: [[0.01, "0.01"], [0.1, "0.1"], [1, "1"]], rLab: [[0.8, "0.8"], [1, "1"], [1.2, "1.2"], [1.4, "1.4"]],
  eX: 326, eY: 1284, tX: 32, cY: 1006, rY: 1187, tag: [556, 923, "(d)"], tagSize: 17,
  tagFont: "'Liberation Serif', 'DejaVu Serif', serif", font: "'DejaVu Sans', sans-serif", size: 16, tsize: 17, fill: "#222", ws: 6});

// ---------- (e) ----------
var E = panel({id: "e", x0: 678.2, x1: 1178.4, t0: 900.7, t1: 1120.7, r0: 1136, r1: 1242.7,
  xdom: [0.315, 9.9], ydom: [0.0013, 2.59], rdom: [0.699, 1.372]});
curve(E, stepPts(eBlackEdges, eBlackSteps).concat(eBlack), "#000", 1.8);
binCrosses(E, eBlackEdges, eBlackSteps, "#000", 1.3, 0.05);
pointCrosses(E, eBlack, "#000", 1.2, 0.014, 0.08);
curve(E, stepPts(eRedEdges, eRedSteps).concat(eRed), RED, 1.8);
binCrosses(E, eRedEdges, eRedSteps, RED, 1.3, 0.05);
pointCrosses(E, eRed, RED, 1.2, 0.014, 0.08);
denseRatio(E, gridE, rEk, errBandsE, "#000", 1.3, 0.01);
denseRatio(E, gridE2, rEk2, errBandsE, "#000", 1.3, 0.01);
denseRatio(E, gridE, rEr, errBandsE, RED, 1.3, 0.01);
denseRatio(E, gridE2, rEr2, errBandsE, RED, 1.3, 0.01);
ratioCrosses(E, eRatBlack, "#000", 1.5);
ratioCrosses(E, eRatRed, RED, 1.5);
unityLine(E);
axes(E, {rMaj: [0.8, 1, 1.2], rMin: [0.7, 0.9, 1.1, 1.3], xLab: xLabs5, xLabY: 1264,
  yLab: [[0.01, "0.01"], [0.1, "0.1"], [1, "1"]], rLab: [[0.8, "0.8"], [1, "1"], [1.2, "1.2"]],
  eX: 894, eY: 1284, tX: 633, cY: 1010, rY: 1190, tag: [1159, 920, "(e)"]});
label(838, 1055, "XMM MOS1", {size: 16, anchor: "start"});
label(838, 1081, "XRT (PC grade 0\u201312)", {size: 16, anchor: "start", fill: RED});
</script>
</body>
</html>
